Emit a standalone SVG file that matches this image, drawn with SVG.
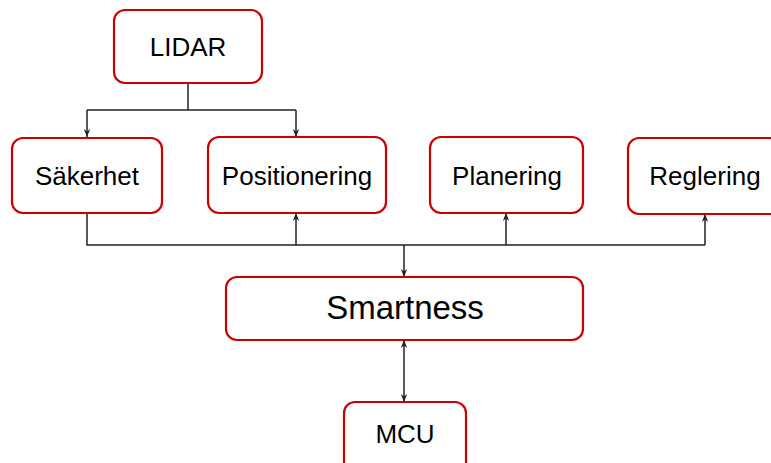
<svg xmlns="http://www.w3.org/2000/svg" width="771" height="463" viewBox="0 0 771 463">
<style>
.box{fill:#fff;stroke:#cc0000;stroke-width:2.2}
.t{font-family:"Liberation Sans",Arial,sans-serif;font-size:26px;fill:#000;text-anchor:middle}
.c{fill:none;stroke:#222;stroke-width:1.5}
</style>
<defs>
<marker id="ah" viewBox="0 0 10 10" refX="10" refY="5" markerWidth="8" markerHeight="8" orient="auto-start-reverse" markerUnits="userSpaceOnUse">
<path d="M0,1 L10,5 L0,9 L3,5 Z" fill="#222"/>
</marker>
</defs>
<rect width="771" height="463" fill="#fff"/>
<g id="connectors">
<path class="c" d="M188,83 V110 M87,110 H296"/>
<path class="c" d="M87,110 V137" marker-end="url(#ah)"/>
<path class="c" d="M296,110 V137" marker-end="url(#ah)"/>
<path class="c" d="M87,213 V245 H705"/>
<path class="c" d="M296,245 V213" marker-end="url(#ah)"/>
<path class="c" d="M506,245 V213" marker-end="url(#ah)"/>
<path class="c" d="M705,245 V214" marker-end="url(#ah)"/>
<path class="c" d="M404,245 V277" stroke-width="2" marker-end="url(#ah)"/>
<path class="c" d="M404,340 V402" marker-start="url(#ah)" marker-end="url(#ah)"/>
</g>
<g id="lidar"><rect class="box" x="114" y="10" width="148" height="73" rx="11"/><text class="t" x="188" y="56">LIDAR</text></g>
<g id="sakerhet"><rect class="box" x="12" y="138" width="150" height="75" rx="11"/><text class="t" x="87" y="185">Säkerhet</text></g>
<g id="positionering"><rect class="box" x="208" y="137" width="178" height="76" rx="11"/><text class="t" x="297" y="185">Positionering</text></g>
<g id="planering"><rect class="box" x="430" y="137" width="153" height="76" rx="11"/><text class="t" x="507" y="185">Planering</text></g>
<g id="reglering"><rect class="box" x="628" y="138" width="152" height="76" rx="11"/><text class="t" x="705" y="185">Reglering</text></g>
<g id="smartness"><rect class="box" x="226" y="277" width="357" height="63" rx="11"/><text class="t" x="405" y="319" style="font-size:33px">Smartness</text></g>
<g id="mcu"><rect class="box" x="344" y="402" width="122" height="76" rx="11"/><text class="t" x="405" y="443">MCU</text></g>
</svg>
